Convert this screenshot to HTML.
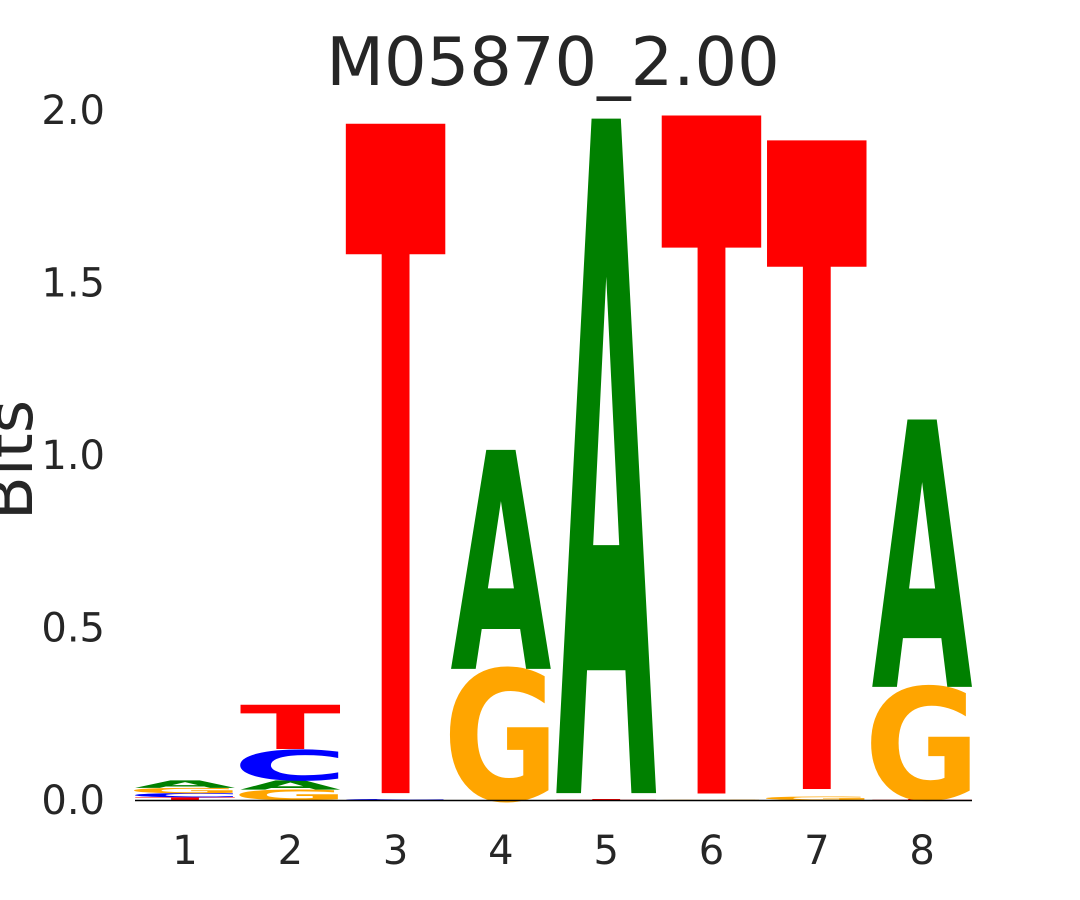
<!DOCTYPE html>
<html><head><meta charset="utf-8"><style>
html,body{margin:0;background:#fff;overflow:hidden;width:1080px;height:900px;}
svg{display:block;font-family:"DejaVu Sans","Liberation Sans",sans-serif;}
</style></head><body>
<svg id="chart" width="1080" height="900">
<text x="553" y="85" font-size="67" text-anchor="middle" fill="#262626">M05870_2.00</text>
<text transform="translate(32,460) rotate(-90)" font-size="64" text-anchor="middle" fill="#262626">Bits</text>
<g id="yticks"></g><g id="xticks"></g><g id="letters"></g>
<line x1="135" x2="972" y1="800.5" y2="800.5" stroke="#000" stroke-width="1.5"/>
</svg>
<script>
const positions=[1,2,3,4,5,6,7,8];
const yTicks=[0,0.5,1.0,1.5,2.0];
const yTickLabels=["0.0","0.5","1.0","1.5","2.0"];
// stacks bottom->top: [letter, heightInBits]
const stackBases=[
 ["T","C","G","A"],["G","A","C","T"],["C","T"],["G","A"],["T","A"],["G","T"],["G","T"],["T","G","A"]];
const stackHeights=[
 [0.008,0.012,0.015,0.022],[0.03,0.027,0.088,0.128],[0.003,1.94],[0.38,0.635],[0.003,1.955],[0.001,1.965],[0.01,1.88],[0.003,0.325,0.775]];
const gaps=[[0,0,0,0],[0,0,0,0.003],[0,0.017],[0,0],[0,0.017],[0,0.018],[0,0.022],[0,0,0]];
const colors={A:"#008000",C:"#0000ff",G:"#ffa500",T:"#ff0000"};
const widths={A:101,C:116,G:116,T:101};
const ns="http://www.w3.org/2000/svg";
const yS=v=>800-v*345;
const xS=p=>185+(p-1)*105.3;
const yt=document.getElementById('yticks');
yTicks.forEach((v,i)=>{const t=document.createElementNS(ns,'text');


t.setAttribute('x',105);t.setAttribute('y',yS(v)+14);t.setAttribute('font-size','40');t.setAttribute('text-anchor','end');t.setAttribute('fill','#262626');t.textContent=yTickLabels[i];yt.appendChild(t);});
const xt=document.getElementById('xticks');
positions.forEach(p=>{const t=document.createElementNS(ns,'text');


t.setAttribute('x',xS(p));t.setAttribute('y',864);t.setAttribute('font-size','40');t.setAttribute('text-anchor','middle');t.setAttribute('fill','#262626');t.textContent=p;xt.appendChild(t);});
const lg=document.getElementById('letters');
positions.forEach((p,i)=>{let base=0;
 stackBases[i].forEach((L,j)=>{base+=gaps[i][j];const h=stackHeights[i][j];
  const hp=h*345; if(hp<=0){return;}
  const W=widths[L];
  const t=document.createElementNS(ns,'text');
  
  
  t.setAttribute('x',0);t.setAttribute('y',0);t.setAttribute('font-size','100');t.setAttribute('font-weight','bold');
  t.setAttribute('textLength',W);t.setAttribute('lengthAdjust','spacingAndGlyphs');
  t.setAttribute('fill',colors[L]);
  t.setAttribute('transform','translate('+(xS(p)-W/2)+','+yS(base)+') scale(1,'+(hp/72.9)+')');
  t.textContent=L;lg.appendChild(t);base+=h;});
});
</script>
</body></html>
